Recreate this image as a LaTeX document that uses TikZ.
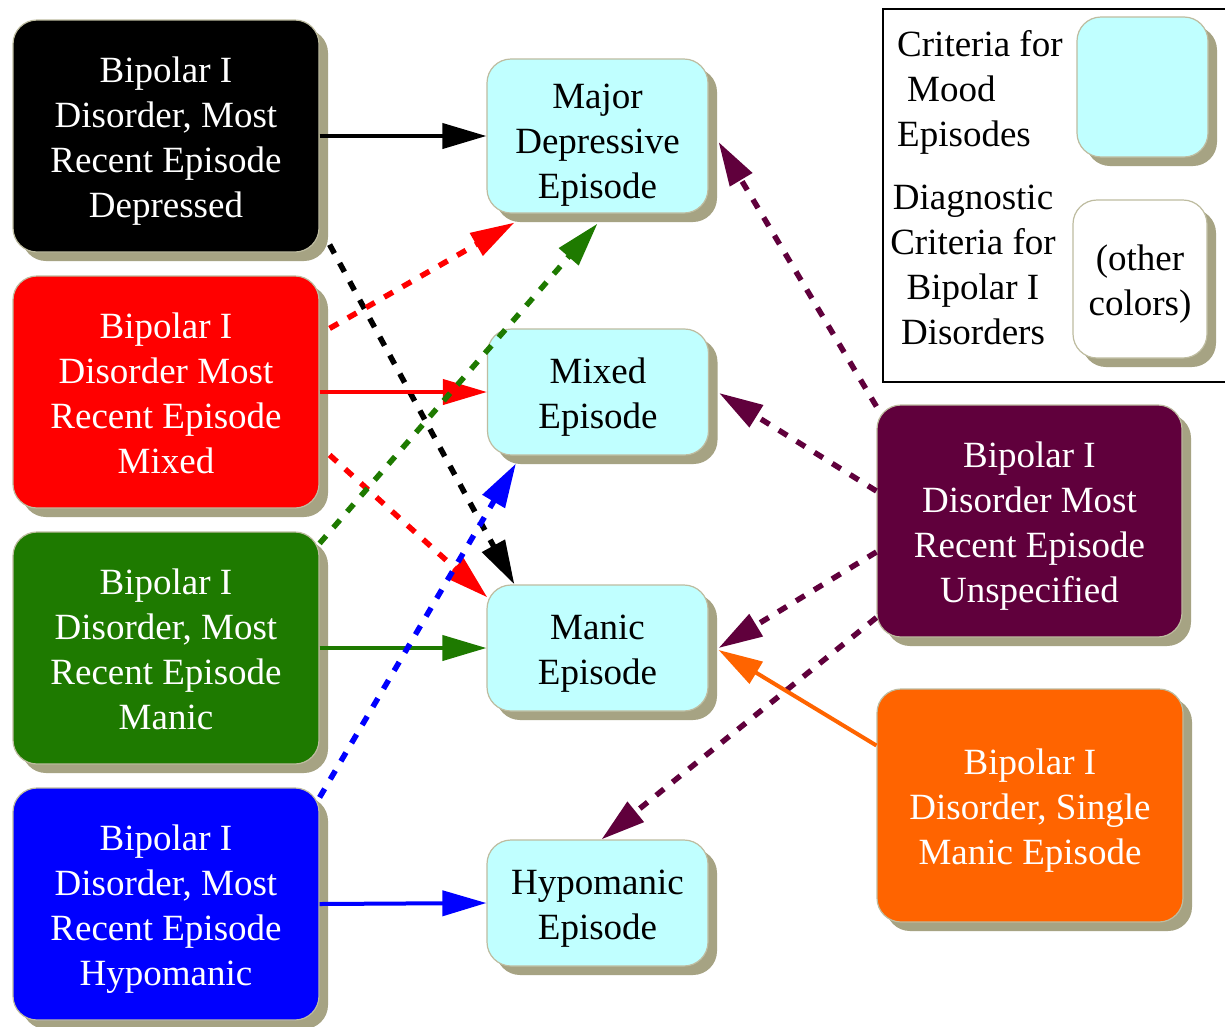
\documentclass[tikz,border=0pt]{standalone}
\usepackage{fontspec}
\setmainfont{Liberation Serif}
\usetikzlibrary{arrows.meta,shadows,calc}
\definecolor{shadowc}{RGB}{166,163,131}
\definecolor{edgec}{RGB}{190,188,160}
\definecolor{cyanc}{RGB}{192,255,255}
\definecolor{greenc}{RGB}{30,122,0}
\definecolor{purplec}{RGB}{96,0,60}
\definecolor{orangec}{RGB}{255,100,0}
\newcommand{\topst}{\rule{0pt}{37pt}}
\newcommand{\topsthi}{\rule{0pt}{43pt}}
\newcommand{\botst}{\rule[-9pt]{0pt}{9pt}}
\begin{document}
\begin{tikzpicture}[x=1pt,y=-1pt,
  txt/.style={font=\fontsize{37}{45}\selectfont},
  box/.style={txt, rectangle, rounded corners=24pt, draw=edgec, line width=1.2pt, inner sep=0pt, align=center,
    general shadow={shadow xshift=9pt, shadow yshift=-9pt, fill=shadowc}},
  disbox/.style={box, minimum width=306pt, minimum height=232pt, text=white},
  epbox/.style={box, fill=cyanc, minimum width=221pt, minimum height=126pt, text=black},
  con/.style={line width=4pt, -{Triangle[length=44pt,width=25pt]}},
  dcon/.style={con, line width=5.5pt, dash pattern=on 10pt off 11pt}]
\useasboundingbox (0,0) rectangle (1225,1026);
\fill[white] (0,0) rectangle (1225,1026);

% left column
\node[disbox, fill=black] (bd) at (166,136) {\topst Bipolar I\\Disorder, Most\\Recent Episode\\Depressed\botst};
\node[disbox, fill=red] (rd) at (166,392) {\topst Bipolar I\\Disorder Most\\Recent Episode\\Mixed\botst};
\node[disbox, fill=greenc] (gr) at (166,648) {\topst Bipolar I\\Disorder, Most\\Recent Episode\\Manic\botst};
\node[disbox, fill=blue] (bl) at (166,904) {\topst Bipolar I\\Disorder, Most\\Recent Episode\\Hypomanic\botst};

% middle column
\node[epbox, minimum height=154pt] (mde) at (597.5,136) {\topsthi Major\\Depressive\\Episode\botst};
\node[epbox] (mix) at (598,392) {\topst Mixed\\Episode\botst};
\node[epbox] (man) at (597.5,648) {\topst Manic\\Episode\botst};
\node[epbox] (hyp) at (597.5,903) {\topst Hypomanic\\Episode\botst};

% right column
\node[disbox, fill=purplec, minimum width=305pt] (pu) at (1029.5,521) {\topst Bipolar I\\Disorder Most\\Recent Episode\\Unspecified\botst};
\node[disbox, fill=orangec, minimum height=233pt] (orn) at (1030,805.5) {\topst Bipolar I\\Disorder, Single\\Manic Episode\botst};

% legend
\node[draw=black, line width=2pt, minimum width=348pt, minimum height=373pt, anchor=north west, inner sep=0pt] (leg) at (882,8) {};
\node[epbox, minimum width=131pt, minimum height=140pt] (lgc) at (1142.5,87) {};
\node[box, fill=white, minimum width=134pt, minimum height=158pt] (lgw) at (1140,279) {\topst(other\\colors)\botst};
\node[txt, align=left, anchor=west, inner sep=0pt] (lt1) at (897,87) {\topst Criteria for\\\hspace*{10pt}Mood\\Episodes\botst};
\node[txt, align=center, inner sep=0pt] (lt2) at (973,263) {\topst Diagnostic\\Criteria for\\Bipolar I\\Disorders\botst};

% connectors
\draw[con, black] (bd.east) -- (mde.west);
\draw[dcon, black] ($(bd.south east)+(10,-8)$) -- ($(man.north west)+(28,0)$);
\draw[dcon, red] ($(rd.north east)+(10,53)$) -- ($(mde.south west)+(28,9)$);
\draw[con, red] (rd.east) -- (mix.west);
\draw[dcon, red] ($(rd.east)+(10,63)$) -- ($(man.north west)+(1,13)$);
\draw[dcon, greenc] ($(gr.north east)+(0,12)$) -- ($(mde.south)+(0,10)$);
\draw[con, greenc] (gr.east) -- (man.west);
\draw[dcon, blue] ($(bl.north east)+(0,10)$) -- ($(mix.south west)+(29,8)$);
\draw[con, blue] (bl.east) -- (hyp.west);
\draw[dcon, purplec] ($(pu.north west)+(0,2)$) -- ($(mde.east)+(10,6)$);
\draw[dcon, purplec] ($(pu.west)+(0,-30)$) -- ($(mix.east)+(10,1)$);
\draw[dcon, purplec] ($(pu.west)+(0,31)$) -- ($(man.east)+(10,0)$);
\draw[dcon, purplec] ($(pu.south west)+(0,-20)$) -- ($(hyp.north)+(4,0)$);
\draw[con, orangec] ($(orn.west)+(0,-60)$) -- ($(man.east)+(10,2)$);
\end{tikzpicture}
\end{document}
